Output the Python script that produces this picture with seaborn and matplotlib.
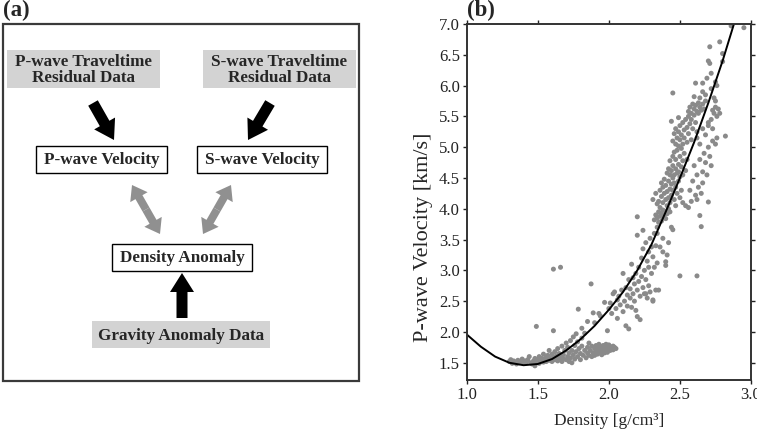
import numpy as np
import pandas as pd
import matplotlib
matplotlib.use("Agg")
import matplotlib.pyplot as plt
import matplotlib.patches as patches
import seaborn as sns

# --- Style ---
sns.set_theme(style="ticks", context="paper")
plt.rcParams['font.family'] = ['Liberation Serif', 'DejaVu Serif']

# --- Data: fitted density -> Vp relation ---
curve_density = [1.0, 1.1, 1.2, 1.3, 1.4, 1.5, 1.6, 1.7, 1.8, 1.9, 2.0,
                 2.1, 2.2, 2.3, 2.4, 2.5, 2.6, 2.7, 2.8, 2.88]
curve_vp = [1.96, 1.76, 1.60, 1.50, 1.46, 1.48, 1.56, 1.70, 1.88, 2.10, 2.36,
            2.65, 3.00, 3.42, 3.95, 4.50, 5.08, 5.72, 6.40, 7.00]

# --- Data: samples (density, Vp) ---
low_band = [
    (1.30, 1.52), (1.31, 1.55), (1.32, 1.49), (1.33, 1.53), (1.34, 1.51), (1.35, 1.48),
    (1.36, 1.54), (1.37, 1.50), (1.38, 1.52), (1.39, 1.56), (1.40, 1.49), (1.41, 1.53),
    (1.42, 1.51), (1.43, 1.55), (1.44, 1.60), (1.45, 1.50), (1.46, 1.48), (1.47, 1.53),
    (1.48, 1.45), (1.48, 1.57), (1.49, 1.51), (1.50, 1.55), (1.51, 1.49), (1.51, 1.60),
    (1.52, 1.53), (1.53, 1.57), (1.54, 1.51), (1.54, 1.64), (1.55, 1.55), (1.56, 1.59),
    (1.56, 1.52), (1.57, 1.62), (1.58, 1.54), (1.58, 1.70), (1.59, 1.57), (1.60, 1.52),
    (1.60, 1.64), (1.61, 1.58), (1.62, 1.55), (1.62, 1.68), (1.63, 1.61), (1.64, 1.53),
    (1.64, 1.73), (1.65, 1.57), (1.65, 1.65), (1.66, 1.60), (1.67, 1.52), (1.67, 1.77),
    (1.68, 1.63), (1.68, 1.56), (1.69, 1.70), (1.70, 1.55), (1.70, 1.82), (1.71, 1.60),
    (1.71, 1.75), (1.72, 1.66), (1.72, 1.52), (1.73, 1.86), (1.73, 1.58), (1.74, 1.70),
    (1.74, 1.50), (1.75, 1.63), (1.75, 1.92), (1.76, 1.78), (1.76, 1.56), (1.77, 1.68),
    (1.77, 1.97), (1.78, 1.60), (1.78, 1.84), (1.79, 1.73), (1.80, 1.55), (1.80, 1.65),
    (1.81, 1.90), (1.81, 1.77), (1.82, 1.62), (1.83, 1.70), (1.83, 1.98), (1.84, 1.58),
    (1.85, 1.75), (1.85, 1.66), (1.86, 1.62), (1.86, 1.82), (1.87, 1.70), (1.88, 1.60),
    (1.88, 1.77), (1.89, 1.66), (1.90, 1.73), (1.90, 1.62), (1.91, 1.78), (1.91, 1.68),
    (1.92, 1.64), (1.92, 1.74), (1.93, 1.70), (1.93, 1.80), (1.94, 1.66), (1.94, 1.75),
    (1.95, 1.72), (1.95, 1.63), (1.96, 1.78), (1.96, 1.69), (1.97, 1.74), (1.97, 1.66),
    (1.98, 1.80), (1.98, 1.71), (1.99, 1.76), (1.99, 1.67), (2.00, 1.73), (2.00, 1.79),
    (2.01, 1.70), (2.01, 1.76), (2.02, 1.74), (2.03, 1.77), (2.03, 1.71), (2.04, 1.75),
    (2.05, 1.73),
    (1.49, 2.09), (1.61, 2.02), (1.61, 3.02), (1.66, 3.05), (1.875, 2.78), (1.785, 2.37),
]

mid_band = [
    (1.97, 2.48), (1.93, 2.30), (1.89, 2.31), (1.85, 2.17), (1.90, 2.15), (1.94, 2.26),
    (1.81, 2.06), (1.99, 2.02), (2.00, 2.38), (2.01, 2.47), (2.02, 2.30), (2.03, 2.62),
    (2.04, 2.65), (2.05, 2.38), (2.06, 2.22), (2.06, 2.52), (2.07, 2.58), (2.08, 2.44),
    (2.09, 2.68), (2.10, 2.95), (2.10, 2.33), (2.11, 2.50), (2.12, 2.72), (2.12, 2.10),
    (2.13, 2.60), (2.13, 2.42), (2.14, 2.85), (2.14, 2.05), (2.15, 2.55), (2.15, 2.70),
    (2.16, 2.40), (2.16, 3.10), (2.17, 2.62), (2.17, 2.88), (2.18, 2.50), (2.18, 2.78),
    (2.19, 2.95), (2.19, 2.35), (2.20, 2.68), (2.20, 2.25), (2.21, 2.82), (2.21, 3.05),
    (2.22, 2.58), (2.22, 2.20), (2.23, 2.90), (2.23, 3.20), (2.24, 2.72), (2.24, 3.35),
    (2.25, 2.62), (2.25, 3.00), (2.26, 2.85), (2.26, 3.45), (2.27, 2.55), (2.27, 3.15),
    (2.28, 2.75), (2.28, 3.30), (2.29, 2.65), (2.29, 3.52), (2.30, 2.95), (2.30, 3.38),
    (2.31, 2.52), (2.31, 3.22), (2.32, 3.05), (2.32, 3.60), (2.33, 2.68), (2.33, 3.40),
    (2.34, 3.12), (2.34, 3.70), (2.20, 3.87), (2.24, 3.65), (2.20, 3.57), (2.28, 3.05),
    (2.26, 2.62), (2.31, 2.50), (2.35, 2.68),
    (2.40, 3.08), (2.40, 3.14), (2.50, 2.91), (2.62, 2.91), (2.45, 3.66), (2.38, 3.52),
    (2.36, 3.38), (2.38, 3.30), (2.34, 3.60), (2.42, 3.45), (2.44, 3.70), (2.41, 3.25),
]

upper_band = [
    (2.32, 3.82), (2.33, 3.90), (2.34, 3.85), (2.35, 3.95), (2.35, 3.78), (2.36, 3.88),
    (2.37, 3.92), (2.37, 3.80), (2.38, 3.98), (2.38, 3.86), (2.39, 3.90), (2.40, 3.84),
    (2.40, 3.96), (2.41, 3.92), (2.42, 4.00), (2.43, 3.95), (2.36, 4.02), (2.34, 4.08),
    (2.31, 4.15), (2.33, 4.25),
    (2.35, 4.12), (2.36, 4.30), (2.37, 4.20), (2.37, 4.42), (2.38, 4.10), (2.38, 4.35),
    (2.39, 4.25), (2.39, 4.48), (2.40, 4.15), (2.40, 4.38), (2.41, 4.05), (2.41, 4.28),
    (2.42, 4.45), (2.42, 4.18), (2.43, 4.32), (2.43, 4.10), (2.44, 4.40), (2.44, 4.22),
    (2.45, 4.50), (2.45, 4.30), (2.46, 4.15), (2.46, 4.42), (2.47, 4.35), (2.47, 4.05),
    (2.48, 4.25), (2.49, 4.45), (2.50, 4.18), (2.51, 4.30), (2.52, 4.10), (2.54, 4.05),
    (2.56, 4.02), (2.58, 4.12),
    (2.41, 4.58), (2.42, 4.65), (2.43, 4.55), (2.43, 4.78), (2.44, 4.62), (2.45, 4.70),
    (2.45, 4.85), (2.46, 4.55), (2.46, 4.92), (2.47, 4.65), (2.47, 4.80), (2.48, 4.58),
    (2.48, 4.95), (2.49, 4.72), (2.49, 4.60), (2.50, 4.85), (2.50, 4.52), (2.51, 4.68),
    (2.51, 4.98), (2.52, 4.78), (2.52, 4.55), (2.53, 4.90), (2.54, 4.62), (2.55, 4.80),
    (2.45, 5.10), (2.46, 5.22), (2.47, 5.05), (2.47, 5.30), (2.48, 5.15), (2.49, 5.25),
    (2.49, 5.02), (2.50, 5.35), (2.50, 5.12), (2.51, 5.20), (2.52, 5.05), (2.52, 5.40),
    (2.53, 5.28), (2.53, 5.15), (2.54, 5.45), (2.55, 5.08), (2.55, 5.32), (2.56, 5.22),
    (2.56, 5.50), (2.57, 5.38), (2.58, 5.12), (2.58, 5.45), (2.59, 5.30), (2.60, 5.52),
    (2.61, 5.40), (2.62, 5.25), (2.49, 5.48), (2.44, 5.42),
    (2.56, 5.58), (2.57, 5.65), (2.58, 5.55), (2.59, 5.70), (2.60, 5.62), (2.61, 5.68),
    (2.62, 5.58), (2.63, 5.72), (2.64, 5.65), (2.65, 5.60), (2.66, 5.70), (2.67, 5.62),
    (2.63, 5.55), (2.68, 5.75),
]

right_scatter = [
    (2.62, 5.15), (2.64, 5.05), (2.66, 5.30), (2.68, 5.20), (2.70, 5.35), (2.72, 5.45),
    (2.73, 5.30), (2.74, 5.55), (2.75, 5.65), (2.76, 5.50), (2.77, 5.62), (2.78, 5.55),
    (2.76, 5.15), (2.75, 5.05), (2.82, 5.18), (2.70, 5.00), (2.67, 4.90), (2.64, 4.80),
    (2.68, 4.75), (2.71, 4.85), (2.60, 4.70), (2.62, 4.55), (2.66, 4.60), (2.59, 4.45),
    (2.63, 4.35), (2.57, 4.30), (2.65, 4.25), (2.62, 4.15), (2.70, 4.11), (2.64, 3.89),
    (2.65, 3.71), (2.61, 4.22), (2.66, 4.42), (2.69, 4.55), (2.72, 4.70), (2.73, 5.10),
    (2.70, 5.40),
    (2.95, 6.94), (2.86, 6.97), (2.78, 6.71), (2.71, 6.63), (2.80, 6.52), (2.80, 6.39),
    (2.70, 6.40), (2.71, 6.36), (2.72, 6.20), (2.75, 6.06), (2.76, 6.00), (2.61, 6.04),
    (2.66, 6.04), (2.69, 6.12), (2.45, 5.88), (2.66, 5.90), (2.72, 5.95), (2.74, 5.80),
    (2.75, 5.75), (2.68, 5.85), (2.73, 5.60), (2.60, 5.82), (2.64, 5.80),
]

samples = pd.DataFrame(low_band + mid_band + upper_band + right_scatter,
                       columns=['density', 'vp'])

# --- Flowchart boxes: (text, x0, y0, x1, y1, filled) in panel pixels ---
box_texts = ["P-wave Traveltime\nResidual Data", "S-wave Traveltime\nResidual Data",
             "P-wave Velocity", "S-wave Velocity", "Density Anomaly",
             "Gravity Anomaly Data"]
box_coords = [(7, 50, 160, 88), (203, 50, 356, 88), (36, 146, 167, 173),
              (197, 146, 327, 173), (112, 244, 252, 271), (92, 321, 270, 348)]
box_filled = [True, True, False, False, False, True]

W, H = 757, 434
fig = plt.figure(figsize=(W / 100, H / 100), dpi=100)

# PANEL (a): flowchart drawn in pixel coordinates
ax_a = fig.add_axes([0, 0, 378.5 / W, 1])
ax_a.set_xlim(0, 378.5)
ax_a.set_ylim(H, 0)
ax_a.axis('off')

ax_a.add_patch(patches.Rectangle((3, 24), 356, 357, facecolor='none',
                                 edgecolor='#3a3a3a', linewidth=1.6))
for txt, (x0, y0, x1, y1), filled in zip(box_texts, box_coords, box_filled):
    if filled:
        ax_a.add_patch(patches.Rectangle((x0, y0), x1 - x0, y1 - y0,
                                         facecolor='#d3d3d3', edgecolor='none'))
    else:
        ax_a.add_patch(patches.Rectangle((x0, y0), x1 - x0, y1 - y0,
                                         facecolor='white', edgecolor='black', linewidth=1.0))
    ax_a.text((x0 + x1) / 2, (y0 + y1) / 2 + 1, txt, ha='center', va='center',
              fontsize=12.3, fontweight='bold', linespacing=1.0)

# black data arrows
for (x0, y0), (x1, y1) in [((93, 103), (114, 140)), ((270, 103), (248, 140)),
                           ((182, 318), (182, 273))]:
    ax_a.add_patch(patches.FancyArrow(x0, y0, x1 - x0, y1 - y0, width=11,
                                      head_width=24, head_length=19,
                                      length_includes_head=True,
                                      facecolor='black', edgecolor='none'))

# gray double arrows
for (x0, y0), (x1, y1) in [((132, 185), (160, 234)), ((231, 185), (203, 234))]:
    mx, my = (x0 + x1) / 2, (y0 + y1) / 2
    for ex, ey in [(x0, y0), (x1, y1)]:
        ax_a.add_patch(patches.FancyArrow(mx, my, ex - mx, ey - my, width=8,
                                          head_width=20, head_length=14,
                                          length_includes_head=True,
                                          facecolor='#909090', edgecolor='none'))

fig.text(3 / W, 1 - 0 / H, "(a)", ha='left', va='top', fontsize=16.5, fontweight='bold')

# PANEL (b): density vs Vp
ax_b = fig.add_axes([466.7 / W, 54 / H, (751 - 466.7) / W, (380 - 24) / H])
sns.scatterplot(x='density', y='vp', data=samples, ax=ax_b, color='#8a8a8a',
                s=13, edgecolor='none', linewidth=0, legend=False)
sns.lineplot(x=curve_density, y=curve_vp, ax=ax_b, color='black', linewidth=1.4)

ax_b.set_xlim(1.0, 3.0)
ax_b.set_ylim(1.22, 7.0)
ax_b.set_xticks(np.arange(1.0, 3.01, 0.5))
ax_b.set_yticks(np.arange(1.5, 7.01, 0.5))
ax_b.set_xticklabels([f"{v:.1f}" for v in np.arange(1.0, 3.01, 0.5)])
ax_b.set_yticklabels([f"{v:.1f}" for v in np.arange(1.5, 7.01, 0.5)])
ax_b.tick_params(axis='both', which='both', direction='out', length=3, width=1,
                 labelsize=12, colors='#222222', top=True, right=True, pad=2)
for side in ['top', 'right', 'bottom', 'left']:
    ax_b.spines[side].set_visible(True)
    ax_b.spines[side].set_linewidth(1.4)
    ax_b.spines[side].set_color('#333333')
ax_b.set_xlabel("Density [g/cm³]", fontsize=12.5, labelpad=7)
ax_b.set_ylabel("P-wave Velocity [km/s]", fontsize=16)
ax_b.yaxis.set_label_coords(-0.12, 0.40)

fig.text(467 / W, 1 - 0 / H, "(b)", ha='left', va='top', fontsize=16.5, fontweight='bold')

fig.savefig("out.png", dpi=100)
